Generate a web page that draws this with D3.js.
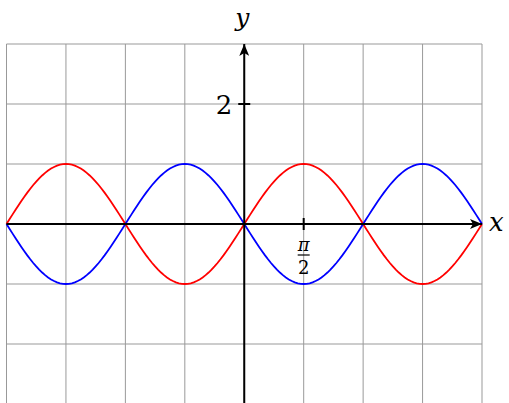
<!DOCTYPE html>
<html lang="en">
<head>
    <meta charset="UTF-8">
    <title>sin / -sin</title>
    <script src="https://d3js.org/d3.v7.min.js"></script>
    <style>
        body { margin: 0; background: #fff; }
        text { font-family: "DejaVu Serif"; }
    </style>
</head>
<body>
    <div id="chart"></div>
    <script>
        // data: sampled curves, tick labels
        const xSamples = d3.range(0, 161).map(i => -2 * Math.PI + i * (4 * Math.PI / 160));
        const redValues = xSamples.map(x => Math.sin(x));
        const blueValues = xSamples.map(x => -Math.sin(x));
        const xTicks = [Math.PI / 2];
        const yTicks = [2];
        const gridX = d3.range(-4, 5).map(k => k * Math.PI / 2);
        const gridY = d3.range(-3, 4);

        const width = 509, height = 403;

        const x = d3.scaleLinear().domain([-2 * Math.PI, 2 * Math.PI]).range([6.5, 482]);
        const y = d3.scaleLinear().domain([-3, 3]).range([404, 44]);

        const svg = d3.select('#chart').append('svg')
            .attr('width', width)
            .attr('height', height);

        // grid
        svg.append('g').selectAll('line.gx')
            .data(gridX)
            .join('line')
            .attr('x1', d => x(d)).attr('x2', d => x(d))
            .attr('y1', y(3)).attr('y2', y(-3))
            .attr('stroke', '#999').attr('stroke-width', 1);
        svg.append('g').selectAll('line.gy')
            .data(gridY)
            .join('line')
            .attr('y1', d => y(d)).attr('y2', d => y(d))
            .attr('x1', x(-2 * Math.PI)).attr('x2', x(2 * Math.PI))
            .attr('stroke', '#999').attr('stroke-width', 1);

        // arrow marker
        svg.append('defs').append('marker')
            .attr('id', 'arr')
            .attr('viewBox', '0 0 10 10')
            .attr('refX', 10).attr('refY', 5)
            .attr('markerWidth', 12).attr('markerHeight', 10)
            .attr('markerUnits', 'userSpaceOnUse')
            .attr('orient', 'auto')
            .attr('preserveAspectRatio', 'none')
            .append('path')
            .attr('d', 'M0,0 L10,5 L0,10 L2.5,5 Z')
            .attr('fill', '#000');

        // curves
        const line = d3.line()
            .x((d, i) => x(xSamples[i]))
            .y(d => y(d));
        svg.append('path').datum(redValues)
            .attr('d', line).attr('fill', 'none')
            .attr('stroke', '#ff0000').attr('stroke-width', 1.8);
        svg.append('path').datum(blueValues)
            .attr('d', line).attr('fill', 'none')
            .attr('stroke', '#0000ff').attr('stroke-width', 1.8);

        // axes
        svg.append('line')
            .attr('x1', x(-2 * Math.PI)).attr('x2', x(2 * Math.PI))
            .attr('y1', y(0)).attr('y2', y(0))
            .attr('stroke', '#000').attr('stroke-width', 2)
            .attr('marker-end', 'url(#arr)');
        svg.append('line')
            .attr('x1', x(0)).attr('x2', x(0))
            .attr('y1', y(-3)).attr('y2', y(3))
            .attr('stroke', '#000').attr('stroke-width', 2)
            .attr('marker-end', 'url(#arr)');

        // ticks
        svg.selectAll('line.xt').data(xTicks).join('line')
            .attr('x1', d => x(d)).attr('x2', d => x(d))
            .attr('y1', y(0) - 6).attr('y2', y(0) + 6)
            .attr('stroke', '#000').attr('stroke-width', 2);
        svg.selectAll('line.yt').data(yTicks).join('line')
            .attr('y1', d => y(d)).attr('y2', d => y(d))
            .attr('x1', x(0) - 6).attr('x2', x(0) + 6)
            .attr('stroke', '#000').attr('stroke-width', 2);

        // x tick label: pi over 2
        xTicks.forEach(t => {
            const g = svg.append('g').attr('transform', `translate(${x(t)},${y(0)})`);
            g.append('text').text('π')
                .attr('x', 0).attr('y', 27)
                .attr('text-anchor', 'middle')
                .attr('font-style', 'italic').attr('font-size', 18);
            g.append('line')
                .attr('x1', -6).attr('x2', 6).attr('y1', 31).attr('y2', 31)
                .attr('stroke', '#000').attr('stroke-width', 1.2);
            g.append('text').text('2')
                .attr('x', 0).attr('y', 50)
                .attr('text-anchor', 'middle')
                .attr('font-size', 18);
        });

        svg.selectAll('text.yl').data(yTicks).join('text')
            .text(d => d)
            .attr('x', x(0) - 12).attr('y', d => y(d) + 10)
            .attr('text-anchor', 'end')
            .attr('font-size', 26);

        // axis labels
        svg.append('text').text('x')
            .attr('x', 489).attr('y', y(0) + 7)
            .attr('font-style', 'italic').attr('font-size', 26);
        svg.append('text').text('y')
            .attr('x', x(0) - 2).attr('y', 26)
            .attr('text-anchor', 'middle')
            .attr('font-style', 'italic').attr('font-size', 25);
    </script>
</body>
</html>
